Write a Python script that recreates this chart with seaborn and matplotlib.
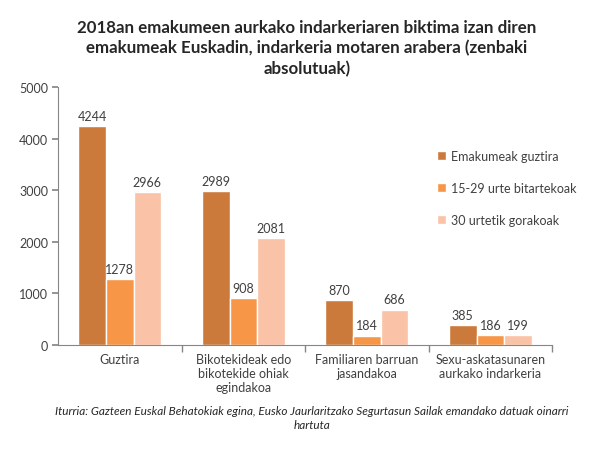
import numpy as np
import pandas as pd
import matplotlib
matplotlib.use('Agg')
import matplotlib.pyplot as plt
from matplotlib.ticker import FixedLocator
import seaborn as sns

# Data
categories = ['Guztira',
              'Bikotekideak edo\nbikotekide ohiak\negindakoa',
              'Familiaren barruan\njasandakoa',
              'Sexu-askatasunaren\naurkako indarkeria']
series = ['Emakumeak guztira', '15-29 urte bitartekoak', '30 urtetik gorakoak']
total = [4244, 2989, 870, 385]
young = [1278, 908, 184, 186]
older = [2966, 2081, 686, 199]
colors = ['#CB7A3B', '#F79646', '#FAC2A6']

df = pd.DataFrame({
    'Kategoria': categories * 3,
    'Serie': [s for s in series for _ in categories],
    'Kopurua': total + young + older,
})

sns.set_theme(style='white')
plt.rcParams['font.family'] = ['Lato', 'DejaVu Sans']

fig = plt.figure(figsize=(5.95, 4.52), dpi=100)
ax = fig.add_axes([0.0975, 0.2345, 0.8305, 0.5705])

sns.barplot(data=df, x='Kategoria', y='Kopurua', hue='Serie',
            palette=colors, width=0.67, saturation=1, ax=ax)

for cont in ax.containers:
    ax.bar_label(cont, fmt='%d', padding=3, fontsize=9, color='#404040')

ax.set_ylim(0, 5000)
ax.set_yticks(np.arange(0, 5001, 1000))
ax.set_xlim(-0.5, len(categories) - 0.5)
ax.set_xlabel('')
ax.set_ylabel('')

for side in ['top', 'right']:
    ax.spines[side].set_visible(False)
for side in ['left', 'bottom']:
    ax.spines[side].set_color('#868686')
    ax.spines[side].set_linewidth(0.8)

ax.tick_params(axis='y', which='major', left=True, length=4, color='#868686',
               labelsize=9, labelcolor='#404040', pad=3)
ax.tick_params(axis='x', which='major', length=0, labelsize=9,
               labelcolor='#404040', pad=6)
ax.xaxis.set_minor_locator(FixedLocator(np.arange(0.5, len(categories), 1.0)))
ax.tick_params(axis='x', which='minor', bottom=True, length=5, color='#868686')

ax.legend(title=None, frameon=False, loc='upper left',
          bbox_to_anchor=(0.745, 0.80), fontsize=9, labelspacing=1.6,
          handlelength=0.7, handleheight=0.7, handletextpad=0.4,
          labelcolor='#404040')

fig.text(0.516, 0.955, '2018an emakumeen aurkako indarkeriaren biktima izan diren\n'
         'emakumeak Euskadin, indarkeria motaren arabera (zenbaki\nabsolutuak)',
         ha='center', va='top', fontsize=12.2, fontweight='bold',
         color='#262626', linespacing=1.3)

fig.text(0.524, 0.102, 'Iturria: Gazteen Euskal Behatokiak egina, Eusko Jaurlaritzako '
         'Segurtasun Sailak emandako datuak oinarri\nhartuta',
         ha='center', va='top', fontsize=8.5, style='italic', color='#262626',
         linespacing=1.3)

fig.savefig('out.png', dpi=100)
